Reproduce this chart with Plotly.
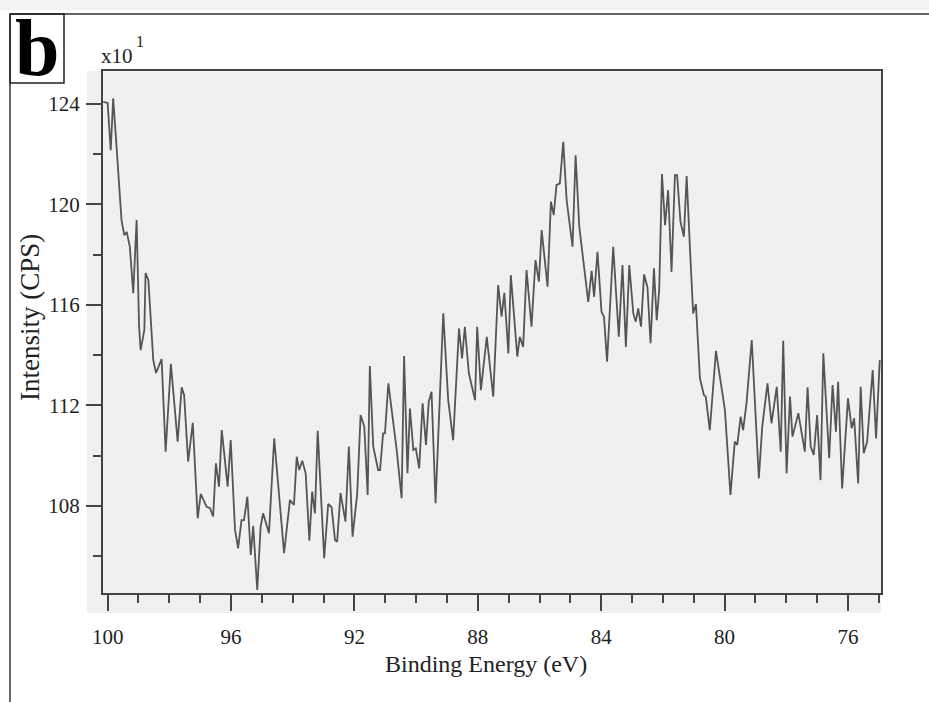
import plotly.graph_objects as go

# Binding energy (eV) and intensity (CPS, in units of x10^1)
energy = [
    100.14, 100.00, 99.90, 99.82, 99.71, 99.55, 99.46, 99.38, 99.28, 99.17,
    99.06, 98.98, 98.93, 98.81, 98.77, 98.68, 98.52, 98.43, 98.25, 98.12,
    97.95, 97.73, 97.60, 97.52, 97.39, 97.24, 97.08, 96.98, 96.79, 96.68,
    96.58, 96.49, 96.39, 96.30, 96.11, 96.01, 95.87, 95.77, 95.66, 95.58,
    95.47, 95.36, 95.28, 95.15, 95.04, 94.96, 94.77, 94.60, 94.28, 94.09,
    93.96, 93.87, 93.79, 93.69, 93.58, 93.46, 93.37, 93.28, 93.19, 92.98,
    92.85, 92.74, 92.63, 92.56, 92.45, 92.29, 92.18, 92.06, 91.91, 91.80,
    91.68, 91.57, 91.50, 91.39, 91.23, 91.17, 91.07, 91.01, 90.90, 90.74,
    90.63, 90.47, 90.39, 90.28, 90.20, 90.09, 90.01, 89.90, 89.79, 89.68,
    89.59, 89.50, 89.37, 89.12, 88.96, 88.80, 88.61, 88.51, 88.42, 88.29,
    88.09, 88.02, 87.90, 87.71, 87.50, 87.34, 87.23, 87.14, 87.01, 86.93,
    86.72, 86.64, 86.53, 86.42, 86.26, 86.13, 86.02, 85.93, 85.74, 85.63,
    85.54, 85.45, 85.34, 85.23, 85.12, 84.93, 84.83, 84.71, 84.42, 84.31,
    84.23, 84.12, 83.99, 83.91, 83.81, 83.61, 83.43, 83.31, 83.20, 83.09,
    82.96, 82.88, 82.80, 82.71, 82.61, 82.50, 82.40, 82.29, 82.20, 82.12,
    82.03, 81.93, 81.83, 81.72, 81.61, 81.54, 81.43, 81.32, 81.23, 81.12,
    81.02, 80.93, 80.80, 80.67, 80.61, 80.48, 80.28, 79.99, 79.81, 79.67,
    79.59, 79.48, 79.40, 79.29, 79.12, 78.89, 78.78, 78.61, 78.48, 78.31,
    78.18, 78.10, 77.99, 77.88, 77.80, 77.61, 77.40, 77.31, 77.21, 77.11,
    77.00, 76.89, 76.80, 76.61, 76.50, 76.39, 76.32, 76.19, 76.00, 75.88,
    75.80, 75.67, 75.59, 75.49, 75.38, 75.20, 75.09, 74.97,
]

intensity = [
    124.07, 124.03, 122.15, 124.21, 122.28, 119.37, 118.77, 118.90, 118.31, 116.46,
    119.37, 115.13, 114.20, 115.00, 117.27, 116.98, 113.80, 113.29, 113.84, 110.16,
    113.65, 110.56, 112.72, 112.41, 109.76, 111.31, 107.51, 108.48, 107.97, 107.91,
    107.58, 109.70, 108.77, 111.02, 108.77, 110.62, 107.05, 106.32, 107.44, 107.44,
    108.37, 106.05, 107.21, 104.66, 107.18, 107.71, 106.92, 110.69, 106.12, 108.24,
    108.04, 109.96, 109.43, 109.80, 109.30, 106.62, 108.57, 107.71, 110.99, 105.92,
    108.08, 107.95, 106.65, 106.58, 108.51, 107.38, 110.36, 106.78, 108.47, 111.62,
    111.15, 108.44, 113.57, 110.36, 109.43, 109.43, 110.89, 110.89, 112.88, 111.42,
    110.23, 108.31, 113.96, 109.30, 111.88, 110.23, 110.29, 109.50, 112.08, 110.43,
    112.15, 112.54, 108.11, 115.66, 112.21, 110.62, 115.06, 113.87, 115.13, 113.28,
    112.21, 115.13, 112.61, 114.73, 112.35, 116.79, 115.53, 116.48, 114.07, 117.18,
    113.94, 114.73, 114.33, 117.38, 115.13, 117.78, 116.92, 118.97, 116.72, 120.10,
    119.57, 120.76, 120.83, 122.48, 120.16, 118.31, 121.95, 119.10, 116.12, 117.35,
    116.32, 118.11, 115.72, 115.53, 113.74, 118.31, 114.73, 117.58, 114.33, 117.58,
    115.66, 115.33, 115.86, 115.13, 117.21, 116.69, 114.47, 117.45, 115.39, 116.59,
    121.20, 119.17, 120.56, 117.31, 121.16, 121.16, 119.30, 118.71, 121.12, 118.18,
    115.66, 116.03, 113.08, 112.41, 112.35, 111.02, 114.17, 111.82, 108.44, 110.56,
    110.43, 111.55, 111.02, 112.08, 114.60, 109.10, 111.15, 112.88, 111.29, 112.74,
    110.16, 114.57, 109.30, 112.35, 110.76, 111.69, 110.16, 112.72, 110.36, 110.03,
    111.62, 109.03, 114.07, 109.90, 112.81, 110.95, 112.94, 108.70, 112.28, 111.09,
    111.49, 108.90, 112.74, 110.10, 110.56, 113.41, 110.69, 113.80,
]

x_ticks = [100, 96, 92, 88, 84, 80, 76]
y_ticks = [108, 112, 116, 120, 124]

SERIF = "Liberation Serif, Times New Roman, serif"
AXIS_COLOR = "#444444"

fig = go.Figure()
fig.add_trace(go.Scatter(
    x=energy, y=intensity, mode="lines",
    line=dict(color="#555555", width=1.8),
    showlegend=False, hoverinfo="skip",
))

axis_common = dict(
    showgrid=False, zeroline=False,
    showline=True, linecolor=AXIS_COLOR, linewidth=2, mirror=True,
    ticks="outside", tickcolor=AXIS_COLOR, tickwidth=2,
    tickfont=dict(family=SERIF, size=21, color="#222222"),
)

fig.update_xaxes(
    range=[100.15, 74.93],
    tickvals=x_ticks, ticktext=[str(v) for v in x_ticks],
    ticklen=16, ticklabelstandoff=8,
    minor=dict(dtick=1, tick0=0, ticks="outside", ticklen=8,
               tickwidth=2, tickcolor=AXIS_COLOR),
    **axis_common,
)
fig.update_yaxes(
    range=[104.54, 125.30],
    tickvals=y_ticks, ticktext=[str(v) for v in y_ticks],
    ticklen=15, ticklabelstandoff=2,
    minor=dict(dtick=2, tick0=0, ticks="outside", ticklen=8,
               tickwidth=2, tickcolor=AXIS_COLOR),
    **axis_common,
)

W, H = 929, 702
L, R, T, B = 103, 48, 71, 109
pw, ph = W - L - R, H - T - B


def px_x(p):
    return (p - L) / pw


def px_y(p):
    return (H - B - p) / ph


shapes = [
    # grey panel behind the axes and tick marks
    dict(type="rect", xref="paper", yref="paper", layer="below",
         x0=px_x(87), x1=1, y0=px_y(613), y1=1,
         fillcolor="#f0f0f0", line=dict(width=0)),
    # faint band along the top edge
    dict(type="rect", xref="paper", yref="paper", layer="below",
         x0=px_x(0), x1=px_x(W), y0=px_y(10), y1=px_y(0),
         fillcolor="#f3f3f3", line=dict(width=0)),
    # outer frame lines
    dict(type="line", xref="paper", yref="paper",
         x0=px_x(10), x1=px_x(W), y0=px_y(14), y1=px_y(14),
         line=dict(color="#333333", width=1.5)),
    dict(type="line", xref="paper", yref="paper",
         x0=px_x(10), x1=px_x(10), y0=px_y(14), y1=px_y(H),
         line=dict(color="#333333", width=1.5)),
    # box around the panel letter
    dict(type="rect", xref="paper", yref="paper",
         x0=px_x(10), x1=px_x(64), y0=px_y(83), y1=px_y(14),
         line=dict(color="#222222", width=1.5), fillcolor="rgba(0,0,0,0)"),
]

annotations = [
    dict(text="<b>b</b>", xref="paper", yref="paper",
         x=px_x(37), y=px_y(48), xanchor="center", yanchor="middle",
         showarrow=False, font=dict(family=SERIF, size=80, color="#000000")),
    # axis multiplier "x10" with its exponent
    dict(text="x10", xref="paper", yref="paper",
         x=px_x(99), y=px_y(56), xanchor="left", yanchor="middle",
         showarrow=False, font=dict(family=SERIF, size=21, color="#222222")),
    dict(text="1", xref="paper", yref="paper",
         x=px_x(134), y=px_y(42), xanchor="left", yanchor="middle",
         showarrow=False, font=dict(family=SERIF, size=16, color="#222222")),
    dict(text="Binding Energy (eV)", xref="paper", yref="paper",
         x=px_x(486), y=px_y(664), xanchor="center", yanchor="middle",
         showarrow=False, font=dict(family=SERIF, size=24, color="#222222")),
    dict(text="Intensity (CPS)", xref="paper", yref="paper",
         x=px_x(30), y=px_y(318), xanchor="center", yanchor="middle",
         textangle=-90, showarrow=False,
         font=dict(family=SERIF, size=27, color="#222222")),
]

fig.update_layout(
    width=W, height=H,
    margin=dict(l=L, r=R, t=T, b=B, autoexpand=False),
    paper_bgcolor="#ffffff", plot_bgcolor="#f0f0f0",
    shapes=shapes, annotations=annotations,
    showlegend=False,
)

fig.write_html("out.html")
